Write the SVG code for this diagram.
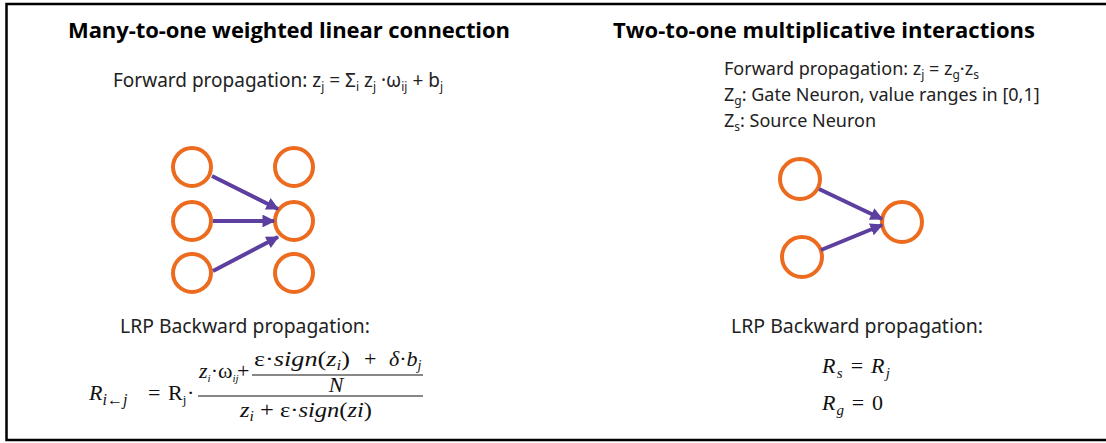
<svg xmlns="http://www.w3.org/2000/svg" width="1106" height="443" viewBox="0 0 1106 443">
<defs>
<style>
.title{font-family:"Open Sans","Liberation Sans",sans-serif;font-weight:bold;font-size:22px;fill:#000}
.body{font-family:"Noto Sans","Open Sans",sans-serif;font-size:19px;fill:#222}
.small{font-size:18px}
.sub{font-size:12px}
.math{font-family:"Liberation Serif","DejaVu Serif",serif;font-size:22px;fill:#111}
.it{font-style:italic}
.neuron{fill:#fff;stroke:#EC6B1F;stroke-width:4}
.conn{stroke:#5C3F9F;stroke-width:4;fill:none}
.bar{stroke:#111;stroke-width:1.2}
</style>
<marker id="ah" viewBox="0 0 10 10" refX="9" refY="5" markerWidth="3.2" markerHeight="3.2" orient="auto" markerUnits="strokeWidth">
<path d="M0,0 L10,5 L0,10 z" fill="#5C3F9F"/>
</marker>
</defs>
<rect x="6.5" y="4" width="1104" height="436" fill="#fff" stroke="#000" stroke-width="2.5"/>

<g id="titles">
<text class="title" x="68" y="38" textLength="442" lengthAdjust="spacing">Many-to-one weighted linear connection</text>
<text class="title" x="613" y="38" textLength="422" lengthAdjust="spacing">Two-to-one multiplicative interactions</text>
</g>

<g id="left-text">
<text class="body" x="113" y="87">Forward propagation: z<tspan class="sub" dy="4">j</tspan><tspan dy="-4"> = Σ</tspan><tspan class="sub" dy="4">i</tspan><tspan dy="-4"> z</tspan><tspan class="sub" dy="4">j</tspan><tspan dy="-4"> ·ω</tspan><tspan class="sub" dy="4">ij</tspan><tspan dy="-4"> + b</tspan><tspan class="sub" dy="4">j</tspan></text>
<text class="body" x="120" y="333" textLength="250" lengthAdjust="spacingAndGlyphs">LRP Backward propagation:</text>
</g>

<g id="left-formula">
<text class="math" x="89" y="400"><tspan class="it">R</tspan><tspan class="it" font-size="16" dy="5">i←j</tspan></text>
<text class="math" x="148" y="400">=</text>
<text class="math" x="168" y="400">R<tspan font-size="13" dy="4">j</tspan></text>
<text class="math" x="187" y="400">·</text>
<line class="bar" x1="198" y1="396" x2="423" y2="396"/>
<text class="math" x="199" y="378" font-size="18"><tspan class="it">z</tspan><tspan class="it" font-size="11" dy="4">i</tspan><tspan dy="-4">·ω</tspan><tspan class="it" font-size="11" dy="4">ij</tspan></text>
<text class="math" x="237" y="378" font-size="20">+</text>
<text class="math" x="254" y="366" font-size="23" textLength="96" lengthAdjust="spacingAndGlyphs">ε·<tspan class="it">sign</tspan>(<tspan class="it">z</tspan><tspan class="it" font-size="14" dy="4">i</tspan><tspan dy="-4">)</tspan></text>
<text class="math" x="364" y="366">+</text>
<text class="math" x="389" y="366"><tspan class="it">δ</tspan>·<tspan class="it">b</tspan><tspan class="it" font-size="14" dy="4">j</tspan></text>
<line class="bar" x1="252" y1="375" x2="423" y2="375"/>
<text class="math it" x="336" y="392" font-size="20" text-anchor="middle">N</text>
<text class="math" x="240" y="417" textLength="132" lengthAdjust="spacingAndGlyphs"><tspan class="it">z</tspan><tspan class="it" font-size="14" dy="4">i</tspan><tspan dy="-4"> + ε·</tspan><tspan class="it">sign</tspan>(<tspan class="it">zi</tspan>)</text>
</g>

<g id="left-net">
<circle id="in1" class="neuron" cx="192" cy="167" r="19"/>
<circle id="in2" class="neuron" cx="192" cy="221" r="19"/>
<circle id="in3" class="neuron" cx="192" cy="273" r="19"/>
<circle id="out1" class="neuron" cx="294" cy="167" r="19"/>
<circle id="out2" class="neuron" cx="294" cy="221" r="19"/>
<circle id="out3" class="neuron" cx="294" cy="273" r="19"/>
</g>

<g id="right-text">
<text class="body small" x="724" y="75">Forward propagation: z<tspan class="sub" dy="4">j</tspan><tspan dy="-4"> = z</tspan><tspan class="sub" dy="4">g</tspan><tspan dy="-4">·z</tspan><tspan class="sub" dy="4">s</tspan></text>
<text class="body small" x="724" y="101">Z<tspan class="sub" dy="4">g</tspan><tspan dy="-4">: Gate Neuron, value ranges in [0,1]</tspan></text>
<text class="body small" x="724" y="127">Z<tspan class="sub" dy="4">s</tspan><tspan dy="-4">: Source Neuron</tspan></text>
<text class="body" x="731" y="333" textLength="252" lengthAdjust="spacingAndGlyphs">LRP Backward propagation:</text>
</g>

<g id="right-formula">
<text class="math" x="822" y="373" textLength="68" lengthAdjust="spacing"><tspan class="it">R</tspan><tspan class="it" font-size="15" dy="5">s</tspan><tspan dy="-5"> = </tspan><tspan class="it">R</tspan><tspan class="it" font-size="15" dy="5">j</tspan></text>
<text class="math" x="822" y="410" textLength="61" lengthAdjust="spacing"><tspan class="it">R</tspan><tspan class="it" font-size="15" dy="5">g</tspan><tspan dy="-5"> = 0</tspan></text>
</g>

<g id="right-net">
<circle id="gate" class="neuron" cx="800" cy="179" r="20"/>
<circle id="source" class="neuron" cx="802" cy="257" r="20"/>
<circle id="target" class="neuron" cx="902" cy="222" r="20"/>
</g>

<g id="connectors">
<line class="conn" x1="212" y1="176" x2="278" y2="209" marker-end="url(#ah)"/>
<line class="conn" x1="213" y1="221" x2="274" y2="221" marker-end="url(#ah)"/>
<line class="conn" x1="213" y1="271" x2="278" y2="237" marker-end="url(#ah)"/>
<line class="conn" x1="819" y1="189" x2="882" y2="219" marker-end="url(#ah)"/>
<line class="conn" x1="821" y1="250" x2="882" y2="225" marker-end="url(#ah)"/>
</g>
</svg>
